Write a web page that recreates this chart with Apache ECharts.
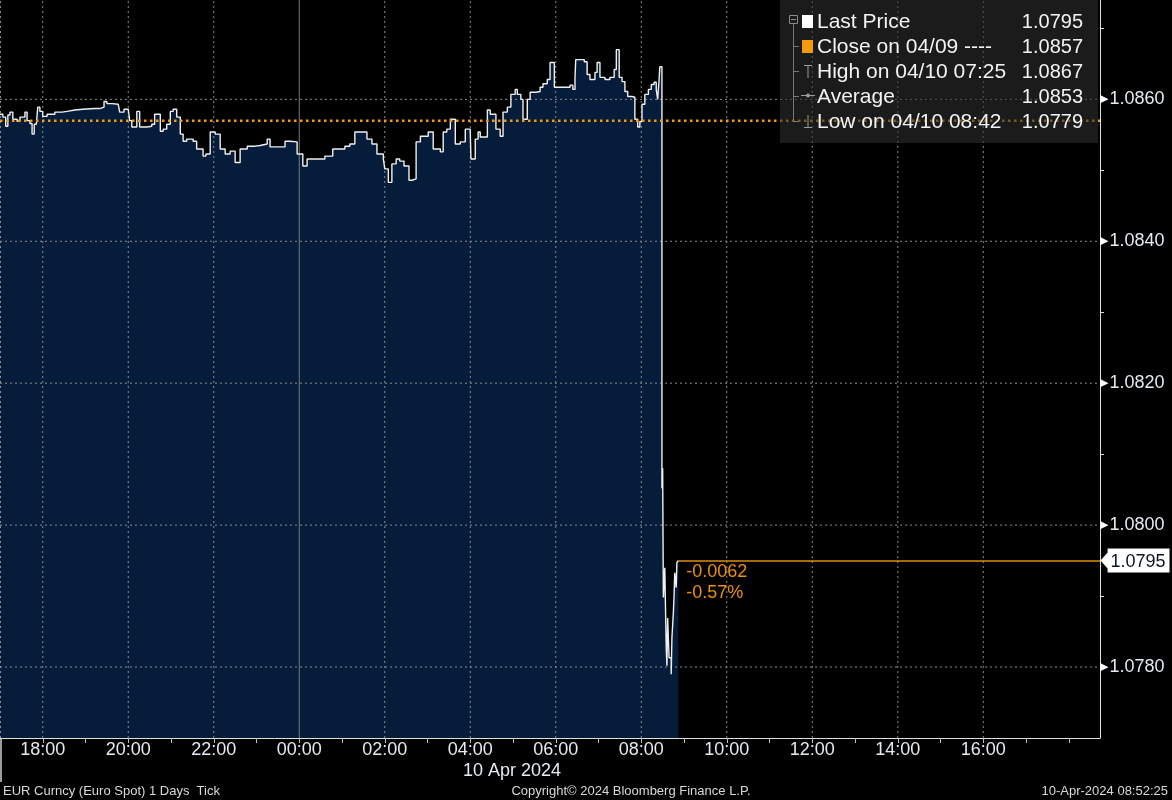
<!DOCTYPE html>
<html><head><meta charset="utf-8">
<script src="https://cdn.jsdelivr.net/npm/echarts@6/dist/echarts.min.js"></script>
<style>html,body{margin:0;padding:0;background:#000}#c{width:1172px;height:800px}</style>
</head><body><div id="c"></div>
<script>
// ---- data (EUR Curncy tick chart, 9 Apr 17:00 -> 10 Apr 08:52, New York time) ----
const times = ['17:00','17:04','17:08','17:11','17:14','17:18','17:24','17:28','17:35','17:38','17:42','17:45','17:48','17:51','17:53','17:56',
'18:00','18:06','18:17','18:27','18:34','18:45','18:56','19:13','19:20','19:26','19:30','19:37','19:46','19:48','19:54',
'20:00','20:02','20:05','20:12','20:16','20:26','20:33','20:37','20:45','20:49','20:54','20:59','21:03','21:08','21:13','21:17','21:22','21:31','21:36','21:45','21:49','21:55',
'22:02','22:09','22:16','22:23','22:30','22:37','22:47','22:58','23:05','23:15','23:19','23:33','23:40','23:47','23:57',
'00:05','00:11','00:22','00:36','00:47','00:57','01:04','01:11','01:18','01:25','01:30','01:35','01:42','01:49','01:58',
'02:00','02:05','02:10','02:16','02:21','02:27','02:34','02:38','02:44','02:50','03:01','03:08','03:18','03:22','03:27','03:32','03:39','03:46','03:53',
'04:00','04:01','04:07','04:11','04:14','04:24','04:28','04:36','04:42','04:46','04:52','04:57','05:03','05:06','05:11','05:14','05:20','05:24','05:32','05:38','05:42','05:48','05:52','05:58',
'06:06','06:14','06:20','06:24','06:27','06:28','06:34','06:40','06:44','06:48','06:55','06:58','07:02','07:09','07:16','07:22','07:25','07:29','07:33','07:37','07:41','07:47','07:51','07:55','07:58',
'08:01','08:05','08:10','08:14','08:18','08:21','08:23','08:25','08:26','08:29','08:30','08:31','08:33','08:35','08:36','08:37','08:39','08:42','08:43','08:45','08:46','08:47','08:49','08:50','08:52'];
const prices = [1.08579,1.08575,1.08562,1.08578,1.08582,1.08572,1.08569,1.08575,1.08582,1.08570,1.08566,1.08551,1.08565,1.08566,1.08589,1.08583,
1.08576,1.08579,1.08582,1.08583,1.08585,1.08586,1.08587,1.08587,1.08589,1.08597,1.08594,1.08593,1.08593,1.08582,1.08586,
1.08585,1.08570,1.08561,1.08583,1.08561,1.08562,1.08565,1.08579,1.08555,1.08558,1.08565,1.08583,1.08586,1.08575,1.08551,1.08541,1.08544,1.08541,1.08530,1.08520,1.08523,1.08554,
1.08551,1.08530,1.08523,1.08527,1.08511,1.08530,1.08534,1.08535,1.08537,1.08544,1.08533,1.08533,1.08541,1.08540,1.08523,
1.08506,1.08516,1.08516,1.08520,1.08530,1.08530,1.08534,1.08537,1.08554,1.08554,1.08554,1.08544,1.08537,1.08523,1.08516,
1.08502,1.08483,1.08509,1.08516,1.08513,1.08506,1.08486,1.08488,1.08540,1.08548,1.08554,1.08530,1.08526,1.08554,1.08558,1.08572,1.08537,1.08540,1.08558,
1.08554,1.08516,1.08544,1.08554,1.08547,1.08585,1.08579,1.08558,1.08548,1.08582,1.08589,1.08607,1.08614,1.08607,1.08600,1.08572,1.08600,1.08610,1.08611,1.08617,1.08622,1.08628,1.08652,1.08617,
1.08617,1.08617,1.08620,1.08614,1.08631,1.08656,1.08656,1.08653,1.08635,1.08628,1.08638,1.08652,1.08631,1.08628,1.08631,1.08642,1.08670,1.08631,1.08625,1.08611,1.08604,1.08603,1.08572,1.08561,1.08569,
1.08593,1.08607,1.08614,1.08621,1.08624,1.08614,1.08600,1.08628,1.08646,1.08052,1.08080,1.07898,1.07940,1.07827,1.07802,1.07869,1.07813,1.07790,1.07841,1.07876,1.07900,1.07933,1.07912,1.07947,1.07950];
const closePrice = 1.0857;
const averagePrice = 1.0853;
const yLabelValues = [1.0780, 1.0800, 1.0820, 1.0840, 1.0860];
const xLabelTimes = ['18:00','20:00','22:00','00:00','02:00','04:00','06:00','08:00','10:00','12:00','14:00','16:00'];
const midnight = '00:00';
const yMin = 1.0770, yMax = 1.0874;
const axisEndHours = 25.73;   // axis runs 17:00 (9 Apr) to ~18:44 (10 Apr)
const dateLabel = '10 Apr 2024';
const footerLeft = 'EUR Curncy (Euro Spot) 1 Days  Tick';
const footerMid = 'Copyright\u00a9 2024 Bloomberg Finance L.P.';
const footerRight = '10-Apr-2024 08:52:25';

// ---- helpers ----
function toOff(t){ const p=t.split(':').map(Number); let v=p[0]+p[1]/60-17; if(v<0) v+=24; return v; }
const pts = times.map((t,i)=>[toOff(t), prices[i]]);
const last = prices[prices.length-1];
const lastX = toOff(times[times.length-1]);
let hi=0, lo=0;
prices.forEach((p,i)=>{ if(p>prices[hi]) hi=i; if(p<prices[lo]) lo=i; });
const chg = last - closePrice;
const chgPct = chg/closePrice*100;
const f4 = v => v.toFixed(4);

const FONT = '"Liberation Sans", Arial, sans-serif';
const TXT = '#e4eaf0';
const ORANGE = '#f59a0c';
const dotStyle = () => ({type:[2,3], color:'#8c8c8c', width:1});

const chart = echarts.init(document.getElementById('c'), null, {renderer:'canvas'});

const legendRows = [
  {label:'Last Price', value:f4(last)},
  {label:'Close on 04/09 ----', value:f4(closePrice)},
  {label:'High on 04/10 '+times[hi], value:f4(prices[hi])},
  {label:'Average', value:f4(averagePrice)},
  {label:'Low on 04/10 '+times[lo], value:f4(prices[lo])}
];
const rowY = i => 22 + i*25;
const legendEls = [
  {type:'rect', shape:{x:780,y:0,width:318,height:143}, style:{fill:'rgba(45,45,45,0.6)'}, z:10},
  {type:'rect', shape:{x:789.5,y:15.5,width:8,height:8}, style:{fill:'none', stroke:'#8a8a8a', lineWidth:1}, z:11},
  {type:'line', shape:{x1:791,y1:19.5,x2:796,y2:19.5}, style:{stroke:'#8a8a8a', lineWidth:1}, z:11},
  {type:'line', shape:{x1:793.5,y1:24,x2:793.5,y2:rowY(4)}, style:{stroke:'#777', lineWidth:1}, z:11},
  {type:'rect', shape:{x:802,y:rowY(0)-7,width:11,height:13}, style:{fill:'#ffffff'}, z:11},
  {type:'rect', shape:{x:802,y:rowY(1)-7,width:11,height:13}, style:{fill:ORANGE}, z:11},
  {type:'line', shape:{x1:804,y1:rowY(2)-6.5,x2:812,y2:rowY(2)-6.5}, style:{stroke:'#9a9a9a', lineWidth:1}, z:11},
  {type:'line', shape:{x1:808,y1:rowY(2)-6.5,x2:808,y2:rowY(2)+6}, style:{stroke:'#9a9a9a', lineWidth:1}, z:11},
  {type:'line', shape:{x1:801,y1:rowY(3)-1.5,x2:815,y2:rowY(3)-1.5}, style:{stroke:'#9a9a9a', lineWidth:1}, z:11},
  {type:'circle', shape:{cx:808,cy:rowY(3)-1.5,r:2}, style:{fill:'#9a9a9a'}, z:11},
  {type:'line', shape:{x1:808,y1:rowY(4)-7,x2:808,y2:rowY(4)+5.5}, style:{stroke:'#9a9a9a', lineWidth:1}, z:11},
  {type:'line', shape:{x1:804,y1:rowY(4)+5.5,x2:812,y2:rowY(4)+5.5}, style:{stroke:'#9a9a9a', lineWidth:1}, z:11}
];
legendRows.forEach((r,i)=>{
  if(i>0) legendEls.push({type:'line', shape:{x1:794,y1:rowY(i)-0.5,x2:799,y2:rowY(i)-0.5}, style:{stroke:'#777', lineWidth:1}, z:11});
  legendEls.push({type:'text', x:817, y:rowY(i), style:{text:r.label, fill:'#f2f2f2', font:'21px '+FONT, align:'left', verticalAlign:'middle'}, z:11});
  legendEls.push({type:'text', x:1083, y:rowY(i), style:{text:r.value, fill:'#f2f2f2', font:'20px '+FONT, align:'right', verticalAlign:'middle'}, z:11});
});

const footerEls = [
  {type:'text', x:512, y:771, style:{text:dateLabel, fill:TXT, font:'18px '+FONT, align:'center', verticalAlign:'middle'}},
  {type:'text', x:3, y:791, style:{text:footerLeft, fill:'#d8d8d8', font:'13px '+FONT, align:'left', verticalAlign:'middle'}},
  {type:'text', x:631, y:791, style:{text:footerMid, fill:'#d8d8d8', font:'13px '+FONT, align:'center', verticalAlign:'middle'}},
  {type:'text', x:1168, y:791, style:{text:footerRight, fill:'#d8d8d8', font:'13px '+FONT, align:'right', verticalAlign:'middle'}},
  {type:'line', shape:{x1:1,y1:738,x2:1,y2:782}, style:{stroke:'#cfcfcf', lineWidth:1.5}}
];

// grid lines drawn as thin line series (above the filled area)
const gridSeries = [];
yLabelValues.forEach(v=>gridSeries.push({
  type:'line', data:[[0,v],[axisEndHours,v]], symbol:'none', silent:true, z:3, lineStyle:dotStyle(), animation:false
}));
xLabelTimes.map(toOff).concat([0.012]).forEach((x,i)=>{
  const solid = (i < xLabelTimes.length && xLabelTimes[i]===midnight);
  gridSeries.push({
    type:'line', data:[[x,yMin],[x,yMax]], symbol:'none', silent:true, z:3, animation:false,
    lineStyle: solid ? {type:'solid', color:'#7a7a7a', width:1} : dotStyle()
  });
});

const option = {
  backgroundColor:'#000',
  animation:false,
  textStyle:{fontFamily:FONT},
  grid:{left:0, right:72, top:0, bottom:62, containLabel:false, outerBoundsMode:'none'},
  xAxis:{
    type:'value', min:0, max:axisEndHours, interval:1,
    axisLine:{show:true, onZero:false, lineStyle:{color:'#e0e0e0', width:1}},
    axisTick:{show:true, length:5, lineStyle:{color:'#bdbdbd'}},
    splitLine:{show:false},
    axisLabel:{
      margin:3, color:TXT, fontSize:18, fontFamily:FONT, showMinLabel:false, showMaxLabel:false,
      formatter:(v)=>{
        const r=Math.round(v); if(Math.abs(v-r)>1e-6 || r<1 || r>23) return '';
        const h=(17+r)%24; const s=(h<10?'0':'')+h+':00';
        return xLabelTimes.indexOf(s)>=0 ? s : '';
      }
    }
  },
  yAxis:{
    type:'value', position:'right', min:yMin, max:yMax, interval:0.001,
    axisLine:{show:true, onZero:false, lineStyle:{color:'#e0e0e0', width:1}},
    axisTick:{show:true, inside:false, length:4, lineStyle:{color:'#e0e0e0'}},
    splitLine:{show:false},
    axisLabel:{
      margin:0, showMinLabel:false, showMaxLabel:false,
      formatter:(v)=>{
        const hit = yLabelValues.find(y=>Math.abs(y-v)<1e-7);
        return hit===undefined ? '' : '{t|\u25B6}{v|'+hit.toFixed(4)+'}';
      },
      rich:{
        t:{fontFamily:'DejaVu Sans', fontSize:11, color:'#ffffff', padding:[0,1,0,0]},
        v:{fontFamily:FONT, fontSize:18, color:TXT}
      }
    }
  },
  series:[
    {
      name:'area', type:'line', data:pts, step:'end', symbol:'none', z:1, silent:true,
      lineStyle:{width:0, opacity:0},
      areaStyle:{color:'#051d3b', opacity:1, origin:'start'}
    }
  ].concat(gridSeries).concat([
    {
      name:'Close', type:'line', data:[[0,closePrice],[axisEndHours,closePrice]], symbol:'none', silent:true, z:7,
      lineStyle:{type:[2.5,3.5], color:ORANGE, width:2.5}
    },
    {
      name:'Last Price', type:'line', data:pts, step:'end', symbol:'none', z:6, silent:true,
      lineStyle:{color:'#f0f0f0', width:1.4},
      markLine:{
        silent:true, symbol:['none','none'], animation:false,
        data:[[
          {coord:[lastX, last], lineStyle:{type:'solid', color:'#e08c0a', width:1.5}, label:{show:false}},
          {coord:[axisEndHours, last]}
        ]]
      },
      markPoint:{
        silent:true, animation:false,
        data:[
          {coord:[lastX, last], symbol:'circle', symbolSize:0,
           label:{show:true, position:'right', distance:0, offset:[8,22], align:'left',
                  formatter:(chg<0?'-':'+')+Math.abs(chg).toFixed(4)+'\n'+(chgPct<0?'-':'+')+Math.abs(chgPct).toFixed(2)+'%',
                  color:'#ea900c', fontSize:18, lineHeight:21, fontFamily:FONT}},
          {coord:[axisEndHours, last], symbol:'path://M0,12L7,4L7,0L68,0L68,24L7,24L7,20Z', symbolSize:[69,24], symbolOffset:[35,0],
           itemStyle:{color:'#ffffff'},
           label:{show:true, position:'inside', offset:[3,1], formatter:f4(last), color:'#0b1422', fontSize:18, fontFamily:FONT}}
        ]
      }
    }
  ]),
  graphic: legendEls.concat(footerEls)
};
chart.setOption(option);
</script></body></html>
